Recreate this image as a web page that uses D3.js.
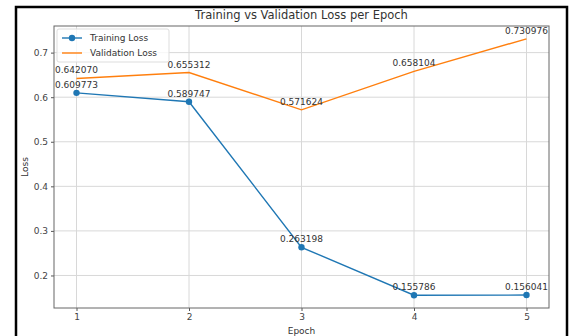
<!DOCTYPE html>
<html>
<head>
<meta charset="utf-8">
<script src="https://cdn.jsdelivr.net/npm/d3@7"></script>
<style>
  body { margin: 0; background: #fff; }
  text { font-family: "DejaVu Sans", sans-serif; fill: #333; }
</style>
</head>
<body>
<svg width="573" height="336"></svg>
<script>
// Data
var epochs = [1, 2, 3, 4, 5];
var trainLoss = [0.609773, 0.589747, 0.263198, 0.155786, 0.156041];
var valLoss = [0.642070, 0.655312, 0.571624, 0.658104, 0.730976];
var yTicks = [0.2, 0.3, 0.4, 0.5, 0.6, 0.7];

var margin = {top: 26, right: 24, bottom: 28, left: 54},
    width = 573 - margin.left - margin.right,
    height = 336 - margin.top - margin.bottom;

var svg = d3.select("svg");

// picture frame
svg.append("rect")
    .attr("x", 16).attr("y", 7)
    .attr("width", 551).attr("height", 340)
    .attr("fill", "none")
    .attr("stroke", "#000")
    .attr("stroke-width", 2.5);

var g = svg.append("g")
    .attr("transform", "translate(" + margin.left + "," + margin.top + ")");

// matplotlib-style 5% margins
var all = trainLoss.concat(valLoss);
var lo = d3.min(all), hi = d3.max(all), pad = (hi - lo) * 0.05;

var x = d3.scaleLinear().domain([0.8, 5.2]).range([0, width]);
var y = d3.scaleLinear().domain([lo - pad, hi + pad]).range([height, 0]);

// grid
g.selectAll(".vgrid").data(epochs).enter().append("line")
    .attr("x1", function(d) { return x(d); }).attr("x2", function(d) { return x(d); })
    .attr("y1", 0).attr("y2", height)
    .attr("stroke", "#d8d8d8").attr("stroke-width", 1);
g.selectAll(".hgrid").data(yTicks).enter().append("line")
    .attr("x1", 0).attr("x2", width)
    .attr("y1", function(d) { return y(d); }).attr("y2", function(d) { return y(d); })
    .attr("stroke", "#d8d8d8").attr("stroke-width", 1);

// axes
var xAxis = g.append("g")
    .attr("transform", "translate(0," + height + ")")
    .call(d3.axisBottom(x).tickValues(epochs).tickFormat(d3.format("d")).tickSize(3).tickPadding(3));
var yAxis = g.append("g")
    .call(d3.axisLeft(y).tickValues(yTicks).tickFormat(d3.format(".1f")).tickSize(3).tickPadding(3));
[xAxis, yAxis].forEach(function(a) {
  a.select(".domain").remove();
  a.selectAll("line").attr("stroke", "#555");
  a.selectAll("text").style("font-size", "9px").style("fill", "#444");
});

g.append("rect")
    .attr("width", width).attr("height", height)
    .attr("fill", "none").attr("stroke", "#666").attr("stroke-width", 1);

// lines
var line = d3.line()
    .x(function(d, i) { return x(epochs[i]); })
    .y(function(d) { return y(d); });

g.append("path").datum(trainLoss)
    .attr("d", line).attr("fill", "none")
    .attr("stroke", "#1f77b4").attr("stroke-width", 1.4);
g.append("path").datum(valLoss)
    .attr("d", line).attr("fill", "none")
    .attr("stroke", "#ff7f0e").attr("stroke-width", 1.4);

g.selectAll(".tdot").data(trainLoss).enter().append("circle")
    .attr("cx", function(d, i) { return x(epochs[i]); })
    .attr("cy", function(d) { return y(d); })
    .attr("r", 3.2).attr("fill", "#1f77b4");

// value labels
function labels(data) {
  g.selectAll(null).data(data).enter().append("text")
      .attr("x", function(d, i) { return x(epochs[i]); })
      .attr("y", function(d) { return y(d) - 5; })
      .attr("text-anchor", "middle")
      .style("font-size", "9px")
      .style("fill", "#333")
      .text(function(d) { return d.toFixed(6); });
}
labels(trainLoss);
labels(valLoss);

// legend
var leg = g.append("g").attr("transform", "translate(3,3)");
leg.append("rect")
    .attr("width", 112).attr("height", 33).attr("rx", 2)
    .attr("fill", "#fff").attr("fill-opacity", 0.8)
    .attr("stroke", "#ddd");
var items = [{name: "Training Loss", color: "#1f77b4", dot: true},
             {name: "Validation Loss", color: "#ff7f0e", dot: false}];
items.forEach(function(it, i) {
  var yy = 9 + i * 15;
  leg.append("line").attr("x1", 5).attr("x2", 25).attr("y1", yy).attr("y2", yy)
      .attr("stroke", it.color).attr("stroke-width", 1.4);
  if (it.dot) leg.append("circle").attr("cx", 15).attr("cy", yy).attr("r", 3.2).attr("fill", it.color);
  leg.append("text").attr("x", 33).attr("y", yy + 3)
      .style("font-size", "9px").text(it.name);
});

// title and axis labels
svg.append("text")
    .attr("x", margin.left + width / 2).attr("y", 19)
    .attr("text-anchor", "middle")
    .style("font-size", "11.5px")
    .text("Training vs Validation Loss per Epoch");
svg.append("text")
    .attr("x", margin.left + width / 2).attr("y", 334)
    .attr("text-anchor", "middle")
    .style("font-size", "9px")
    .text("Epoch");
svg.append("text")
    .attr("transform", "translate(28," + (margin.top + height / 2) + ") rotate(-90)")
    .attr("text-anchor", "middle")
    .style("font-size", "9px")
    .text("Loss");
</script>
</body>
</html>
